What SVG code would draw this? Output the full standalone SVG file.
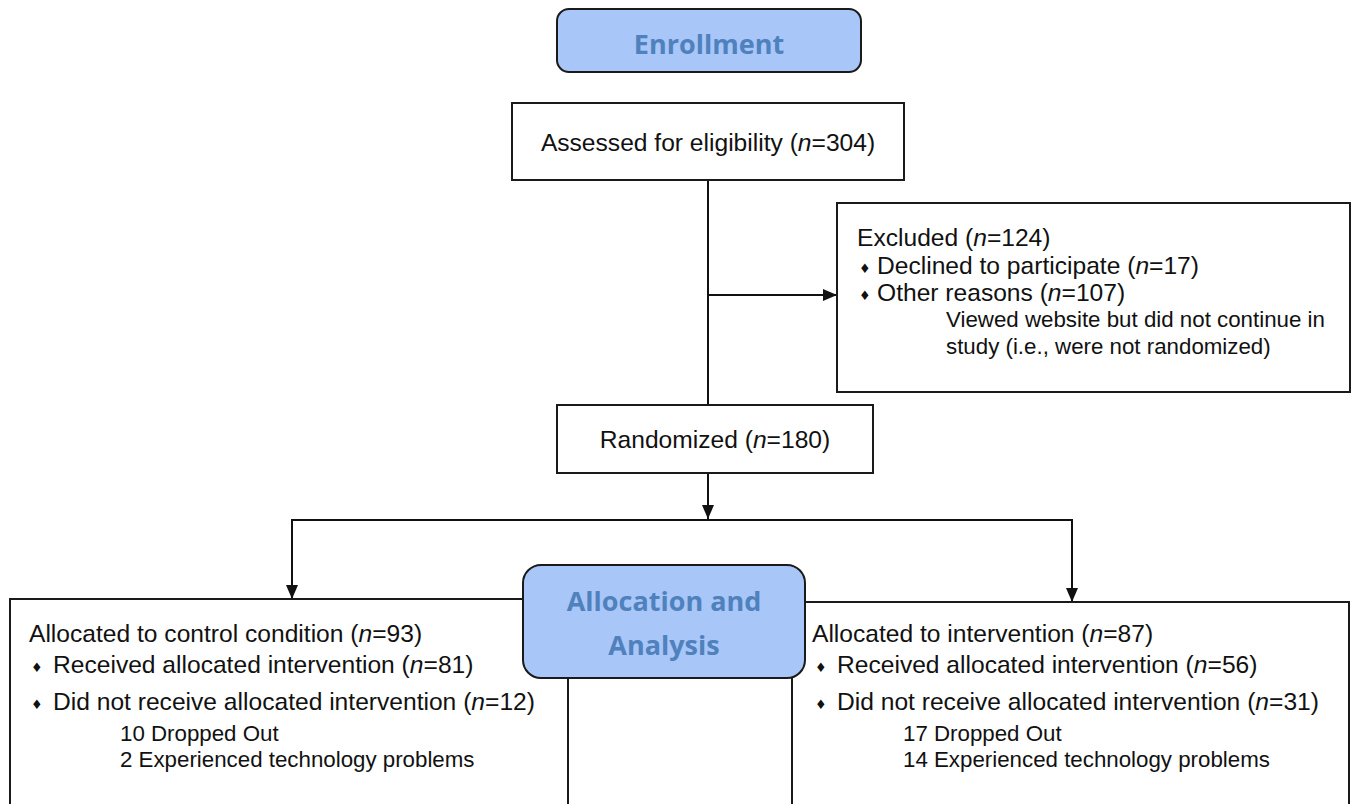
<svg xmlns="http://www.w3.org/2000/svg" width="1355" height="804" viewBox="0 0 1355 804">
<defs>
<marker id="ah" markerUnits="userSpaceOnUse" markerWidth="14" markerHeight="12" viewBox="0 0 14 12" refX="14" refY="6" orient="auto">
<path d="M0,0 L14,6 L0,12 Z" fill="#111"/>
</marker>
<style>
.box{fill:#fff;stroke:#1a1a1a;stroke-width:2}
.hdr{fill:#a8c6f7;stroke:#1a1a1a;stroke-width:2}
.ht{font-family:"Open Sans","Liberation Sans",sans-serif;font-weight:bold;font-size:27px;fill:#4f81bd;text-anchor:middle}
.t{font-family:"Liberation Sans",Arial,sans-serif;font-size:24.6px;fill:#111}
.s{font-family:"Liberation Sans",Arial,sans-serif;font-size:22.3px;fill:#111}
.b{font-family:"DejaVu Sans",sans-serif;font-size:13px;fill:#111}
.c{fill:none;stroke:#111;stroke-width:2}
</style>
</defs>
<g id="connectors">
<line class="c" x1="708" y1="180" x2="708" y2="405"/>
<line class="c" x1="708" y1="295" x2="837" y2="295" marker-end="url(#ah)"/>
<line class="c" x1="708" y1="473" x2="708" y2="519" marker-end="url(#ah)"/>
<line class="c" x1="291" y1="520" x2="1073" y2="520"/>
<line class="c" x1="292" y1="520" x2="292" y2="599" marker-end="url(#ah)"/>
<line class="c" x1="1072" y1="520" x2="1072" y2="602" marker-end="url(#ah)"/>
</g>
<g id="enrollment">
<rect class="hdr" x="557" y="9" width="304" height="63" rx="12"/>
<text class="ht" x="709" y="54">Enrollment</text>
</g>
<g id="assessed">
<rect class="box" x="512" y="103" width="392" height="77"/>
<text class="t" x="708" y="151" text-anchor="middle">Assessed for eligibility (<tspan font-style="italic">n</tspan>=304)</text>
</g>
<g id="excluded">
<rect class="box" x="837" y="203" width="513" height="189"/>
<text class="t" x="857" y="246">Excluded (<tspan font-style="italic">n</tspan>=124)</text>
<text class="b" x="859" y="273">♦</text>
<text class="t" x="877" y="274">Declined to participate (<tspan font-style="italic">n</tspan>=17)</text>
<text class="b" x="859" y="300">♦</text>
<text class="t" x="877" y="301">Other reasons (<tspan font-style="italic">n</tspan>=107)</text>
<text class="s" x="946" y="327">Viewed website but did not continue in</text>
<text class="s" x="946" y="354">study (i.e., were not randomized)</text>
</g>
<g id="randomized">
<rect class="box" x="557" y="405" width="316" height="68"/>
<text class="t" x="715" y="448" text-anchor="middle">Randomized (<tspan font-style="italic">n</tspan>=180)</text>
</g>
<g id="control">
<rect class="box" x="10" y="599" width="558" height="230"/>
<text class="t" x="29" y="642">Allocated to control condition (<tspan font-style="italic">n</tspan>=93)</text>
<text class="b" x="31" y="672">♦</text>
<text class="t" x="53" y="673">Received allocated intervention (<tspan font-style="italic">n</tspan>=81)</text>
<text class="b" x="31" y="709">♦</text>
<text class="t" x="53" y="710">Did not receive allocated intervention (<tspan font-style="italic">n</tspan>=12)</text>
<text class="s" x="120" y="741">10 Dropped Out</text>
<text class="s" x="120" y="767">2 Experienced technology problems</text>
</g>
<g id="intervention">
<rect class="box" x="792" y="602" width="557" height="230"/>
<text class="t" x="812" y="642">Allocated to intervention (<tspan font-style="italic">n</tspan>=87)</text>
<text class="b" x="815" y="672">♦</text>
<text class="t" x="837" y="673">Received allocated intervention (<tspan font-style="italic">n</tspan>=56)</text>
<text class="b" x="815" y="709">♦</text>
<text class="t" x="837" y="710">Did not receive allocated intervention (<tspan font-style="italic">n</tspan>=31)</text>
<text class="s" x="903" y="741">17 Dropped Out</text>
<text class="s" x="903" y="767">14 Experienced technology problems</text>
</g>
<g id="allocation">
<rect class="hdr" x="523" y="565" width="282" height="113" rx="18"/>
<text class="ht" x="664" y="611">Allocation and</text>
<text class="ht" x="664" y="655">Analysis</text>
</g>
</svg>
